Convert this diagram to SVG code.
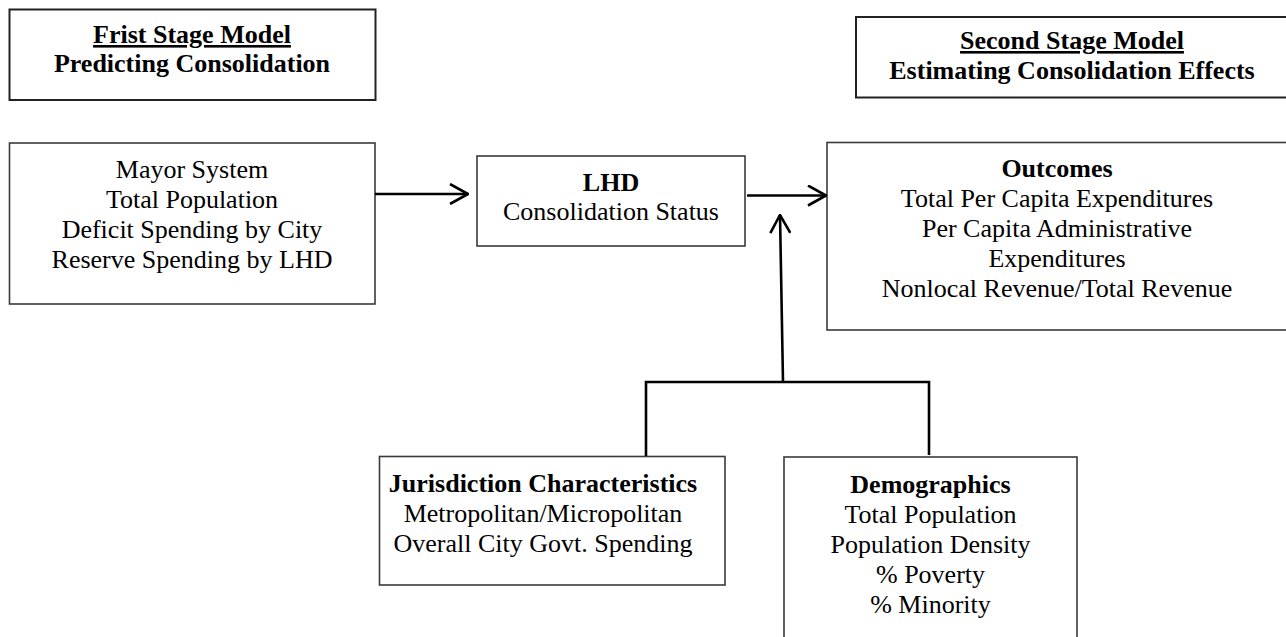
<svg xmlns="http://www.w3.org/2000/svg" width="1286" height="637" viewBox="0 0 1286 637">
<style>
.box{fill:#fff;stroke:#3a3a3a;stroke-width:1.6}
.tbox{fill:#fff;stroke:#222;stroke-width:2}
.t{font-family:"Liberation Serif","Times New Roman",serif;font-size:26px;fill:#000;text-anchor:middle}
.b{font-weight:bold}
.u{text-decoration:underline}
.c{fill:none;stroke:#000;stroke-width:2.6}
</style>
<defs>
<marker id="ah" viewBox="0 0 20 22" refX="19" refY="11" markerWidth="20" markerHeight="22" markerUnits="userSpaceOnUse" orient="auto">
<path d="M1,1 L19,11 L1,21" fill="none" stroke="#000" stroke-width="2.6"/>
</marker>
</defs>
<rect width="1286" height="637" fill="#fff"/>
<g id="first-stage">
<rect class="tbox" x="9.5" y="9.5" width="366" height="90.5"/>
<text class="t b u" x="192" y="43">Frist Stage Model</text>
<text class="t b" x="192" y="72">Predicting Consolidation</text>
</g>
<g id="second-stage">
<rect class="tbox" x="856" y="17" width="440" height="80.5"/>
<text class="t b u" x="1072" y="49">Second Stage Model</text>
<text class="t b" x="1072" y="79">Estimating Consolidation Effects</text>
</g>
<g id="predictors">
<rect class="box" x="9.5" y="143" width="365.5" height="161"/>
<text class="t" x="192" y="178">Mayor System</text>
<text class="t" x="192" y="208">Total Population</text>
<text class="t" x="192" y="238">Deficit Spending by City</text>
<text class="t" x="192" y="268">Reserve Spending by LHD</text>
</g>
<g id="lhd">
<rect class="box" x="477" y="156" width="268" height="90"/>
<text class="t b" x="611" y="191">LHD</text>
<text class="t" x="611" y="220">Consolidation Status</text>
</g>
<g id="outcomes">
<rect class="box" x="827" y="142.5" width="470" height="187.5"/>
<text class="t b" x="1057" y="177">Outcomes</text>
<text class="t" x="1057" y="207">Total Per Capita Expenditures</text>
<text class="t" x="1057" y="237">Per Capita Administrative</text>
<text class="t" x="1057" y="267">Expenditures</text>
<text class="t" x="1057" y="297">Nonlocal Revenue/Total Revenue</text>
</g>
<g id="jurisdiction">
<rect class="box" x="379.5" y="456.5" width="345.5" height="128.5"/>
<text class="t b" x="543" y="492">Jurisdiction Characteristics</text>
<text class="t" x="543" y="522">Metropolitan/Micropolitan</text>
<text class="t" x="543" y="552">Overall City Govt. Spending</text>
</g>
<g id="demographics">
<rect class="box" x="784" y="457" width="293" height="200"/>
<text class="t b" x="930.5" y="493">Demographics</text>
<text class="t" x="930.5" y="523">Total Population</text>
<text class="t" x="930.5" y="553">Population Density</text>
<text class="t" x="930.5" y="583">% Poverty</text>
<text class="t" x="930.5" y="613">% Minority</text>
</g>
<g id="connectors">
<path class="c" d="M375,194 L468,194" marker-end="url(#ah)"/>
<path class="c" d="M747,195.5 L826,195.5" marker-end="url(#ah)"/>
<path class="c" d="M783,382 L780,215" marker-end="url(#ah)"/>
<path class="c" d="M646,456 L646,382 L929,382 L929,455"/>
</g>
</svg>
